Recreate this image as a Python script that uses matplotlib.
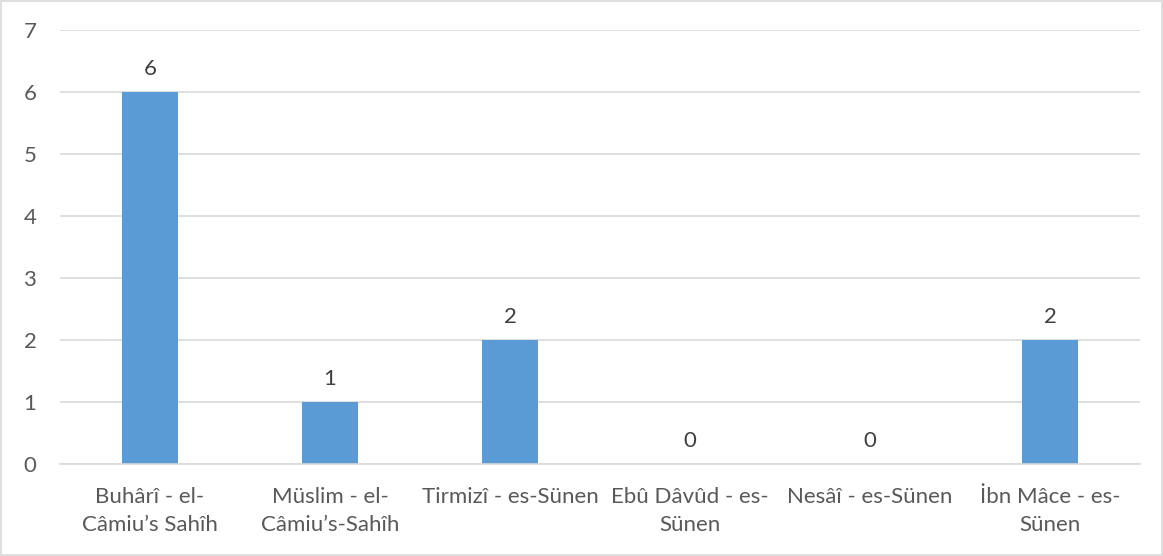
import matplotlib
matplotlib.use("Agg")
import matplotlib.pyplot as plt
from matplotlib.patches import Rectangle

categories = ["Buhârî - el-\nCâmiu’s Sahîh", "Müslim - el-\nCâmiu’s-Sahîh", "Tirmizî - es-Sünen",
              "Ebû Dâvûd - es-\nSünen", "Nesâî - es-Sünen", "İbn Mâce - es-\nSünen"]
values = [6, 1, 2, 0, 0, 2]
yticks = [0, 1, 2, 3, 4, 5, 6, 7]

plt.rcParams['font.family'] = ['Lato', 'DejaVu Sans']
text_color = "#595959"
fs = 16

fig = plt.figure(figsize=(11.63, 5.56), dpi=100)
ax = fig.add_axes([60/1163, 1-464/556, 1080/1163, (464-30)/556])

x = list(range(len(categories)))
bars = ax.bar(x, values, width=0.31, color="#5B9BD5", zorder=3)
for xi, v in zip(x, values):
    ax.annotate(str(v), (xi, v), xytext=(0, 12.5), textcoords="offset points",
                ha="center", va="baseline", fontsize=fs, color="#404040")

ax.set_xlim(-0.5, len(categories) - 0.5)
ax.set_ylim(0, 7)
ax.set_yticks(yticks)
ax.set_xticks(x)
ax.set_xticklabels(categories, fontsize=fs, color=text_color, linespacing=1.5)
ax.tick_params(axis='y', labelsize=fs, labelcolor=text_color, length=0, pad=17)
ax.tick_params(axis='x', length=0, pad=16.5)
ax.yaxis.grid(True, color="#D9D9D9", linewidth=1.2, zorder=0)
for s in ['top', 'right', 'left']:
    ax.spines[s].set_visible(False)
ax.spines['bottom'].set_color("#D9D9D9")
ax.spines['bottom'].set_linewidth(1.2)
ax.spines['bottom'].set_zorder(4)

fig.patches.append(Rectangle((1/1163, 1/556), 1161/1163, 554/556, transform=fig.transFigure,
                             fill=False, edgecolor="#D9D9D9", linewidth=1.2))

fig.savefig("out.png", dpi=100)
